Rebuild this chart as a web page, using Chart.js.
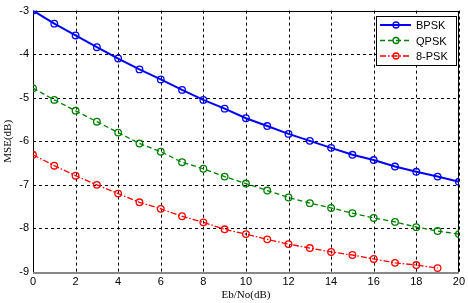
<!DOCTYPE html>
<html><head><meta charset="utf-8">
<script src="https://cdn.jsdelivr.net/npm/chart.js@4/dist/chart.umd.min.js"></script>
<style>html,body{margin:0;padding:0;background:#fff}#w{width:468px;height:303px}</style>
</head><body><div id="w"><canvas id="c"></canvas></div>
<script>
const ebno = [0,1,2,3,4,5,6,7,8,9,10,11,12,13,14,15,16,17,18,19,20];
const bpsk = [-3.0,-3.3,-3.57,-3.84,-4.1,-4.35,-4.58,-4.82,-5.05,-5.25,-5.47,-5.65,-5.83,-5.99,-6.15,-6.31,-6.43,-6.58,-6.7,-6.81,-6.93];
const qpsk = [-4.78,-5.05,-5.3,-5.55,-5.8,-6.05,-6.24,-6.48,-6.63,-6.81,-6.97,-7.13,-7.29,-7.42,-7.53,-7.65,-7.76,-7.85,-7.97,-8.06,-8.13];
const psk8 = [-6.31,-6.56,-6.79,-7.0,-7.2,-7.4,-7.55,-7.72,-7.86,-8.02,-8.13,-8.25,-8.36,-8.45,-8.54,-8.61,-8.7,-8.79,-8.84,-8.91,null];
const seriesNames = ['BPSK','QPSK','8-PSK'];
const xTicks = [0,2,4,6,8,10,12,14,16,18,20];
const yTicks = [-3,-4,-5,-6,-7,-8,-9];

const colors = ['#0000ff','#008000','#ff0000'];
const dashes = [[], [5,3], [6,2,1.5,2]];
const vals = [bpsk, qpsk, psk8];

const frame = {
  id:'frame',
  beforeDatasetsDraw(chart){
    const {ctx, chartArea:a, scales} = chart;
    ctx.save();
    ctx.strokeStyle='#000'; ctx.lineWidth=1;
    ctx.setLineDash([3,3]);
    xTicks.forEach(v=>{
      const x=Math.round(scales.x.getPixelForValue(v))+0.5;
      ctx.beginPath(); ctx.moveTo(x,a.top); ctx.lineTo(x,a.bottom); ctx.stroke();
    });
    yTicks.forEach(v=>{
      const y=Math.round(scales.y.getPixelForValue(v))+0.5;
      ctx.beginPath(); ctx.moveTo(a.left,y); ctx.lineTo(a.right,y); ctx.stroke();
    });
    ctx.setLineDash([]);
    ctx.strokeRect(Math.round(a.left)+0.5, Math.round(a.top)+0.5, Math.round(a.right-a.left)-1, Math.round(a.bottom-a.top));
    ctx.strokeStyle='#888'; ctx.lineWidth=2;
    ctx.beginPath(); ctx.moveTo(a.left,Math.round(a.bottom)+1); ctx.lineTo(a.right,Math.round(a.bottom)+1); ctx.stroke();
    ctx.restore();
  },
  afterDraw(chart){
    const {ctx} = chart;
    ctx.save();
    const lx=376, ly=16, lw=80, lh=49;
    ctx.fillStyle='#fff'; ctx.fillRect(lx,ly,lw,lh);
    ctx.strokeStyle='#000'; ctx.lineWidth=1; ctx.strokeRect(lx+0.5,ly+0.5,lw,lh);
    ctx.font='11px "Liberation Sans", Arial, sans-serif';
    ctx.textBaseline='middle';
    for(let i=0;i<3;i++){
      const y=ly+9+i*15.5;
      ctx.strokeStyle=colors[i]; ctx.lineWidth=i===0?2:1.3;
      ctx.setLineDash(dashes[i]);
      ctx.beginPath(); ctx.moveTo(lx+4,y); ctx.lineTo(lx+35,y); ctx.stroke();
      ctx.setLineDash([]);
      ctx.lineWidth=1.3;
      ctx.beginPath(); ctx.arc(lx+20,y,3,0,Math.PI*2); ctx.stroke();
      ctx.fillStyle='#000';
      ctx.fillText(seriesNames[i], lx+40, y+1);
    }
    ctx.restore();
  }
};

new Chart(document.getElementById('c'), {
  type:'line',
  data:{
    labels: ebno,
    datasets: vals.map((v,i)=>({
      label: seriesNames[i],
      data: v,
      borderColor: colors[i],
      borderWidth: i===0?2:1.3,
      borderDash: dashes[i],
      pointStyle:'circle',
      pointRadius:3.3,
      pointBorderWidth:1.3,
      pointBorderColor: colors[i],
      pointBackgroundColor:'rgba(0,0,0,0)',
      tension:0,
      spanGaps:false
    }))
  },
  options:{
    responsive:true, maintainAspectRatio:false, animation:false,
    layout:{padding:{top:9,right:8,left:0,bottom:0}},
    plugins:{legend:{display:false}, tooltip:{enabled:false}},
    scales:{
      x:{
        type:'linear', min:0, max:20,
        afterFit(s){ s.height=31; },
        afterBuildTicks(s){ s.ticks = xTicks.map(v=>({value:v})); },
        grid:{display:false, drawTicks:false},
        border:{display:false},
        ticks:{color:'#000', padding:3, font:{family:'"Liberation Sans", Arial, sans-serif', size:11}, maxRotation:0},
        title:{display:true, text:'Eb/No(dB)', color:'#000', padding:{top:0,bottom:1}, font:{family:'"Liberation Serif", "Times New Roman", serif', size:11}}
      },
      y:{
        type:'linear', min:-9, max:-3,
        afterFit(s){ s.width=33; },
        afterBuildTicks(s){ s.ticks = yTicks.map(v=>({value:v})); },
        grid:{display:false, drawTicks:false},
        border:{display:false},
        ticks:{color:'#000', padding:4, font:{family:'"Liberation Sans", Arial, sans-serif', size:11}},
        title:{display:true, text:'MSE(dB)', color:'#000', padding:{top:2,bottom:0}, font:{family:'"Liberation Serif", "Times New Roman", serif', size:11}}
      }
    }
  },
  plugins:[frame]
});
</script>
</body></html>
